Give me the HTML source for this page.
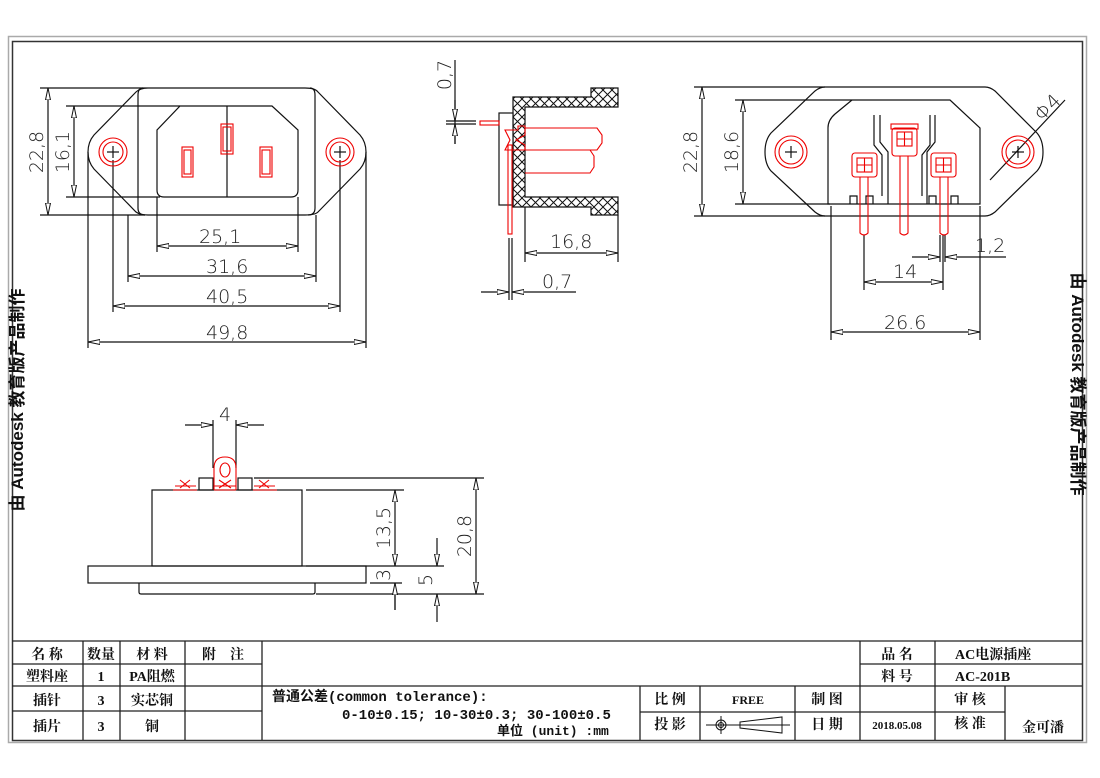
<!DOCTYPE html>
<html><head><meta charset="utf-8"><style>
html,body{margin:0;padding:0;background:#fff}
svg{display:block}
text{font-family:"Liberation Sans","Noto Sans CJK SC",sans-serif}
.d{font-family:"DejaVu Sans","Liberation Sans",sans-serif;font-size:19px;fill:#222;font-weight:300}
.t{font-family:"Liberation Serif","Noto Serif CJK SC","Noto Sans CJK SC",serif;font-size:14px;font-weight:bold;fill:#111}
.m{font-family:"Liberation Mono","Noto Sans CJK SC",monospace;font-size:14px;font-weight:bold;fill:#111}
</style></head><body>
<svg width="1100" height="778" viewBox="0 0 1100 778" xmlns="http://www.w3.org/2000/svg">
<defs>
<marker id="a" viewBox="0 0 12 6" refX="12" refY="3" markerWidth="12" markerHeight="6" orient="auto-start-reverse" markerUnits="userSpaceOnUse">
<path d="M0,0.5 L12,3 L0,5.5 Z" fill="#fff" stroke="#111" stroke-width="1"/></marker>
<pattern id="h" width="9" height="9" patternUnits="userSpaceOnUse"><path d="M0,0L9,9M9,0L0,9" stroke="#111" stroke-width="1"/></pattern>
</defs>
<rect x="0" y="0" width="1100" height="778" fill="#fff"/>
<rect x="8.5" y="36.5" width="1078" height="706" fill="none" stroke="#aaa" stroke-width="1.5"/>
<rect x="12.5" y="41.5" width="1070" height="699" fill="none" stroke="#333" stroke-width="1.5"/>

<g fill="none" stroke="#111" stroke-width="1.2">
<path d="M140,88 L305,88 Q315,88 318,92 L360,135 Q366,142 366,152 Q366,162 360,169 L318,212 Q315,215 305,215 L148,215 Q140,215 136,212 L94,169 Q88,162 88,152 Q88,142 94,135 L136,92 Q140,88 148,88 Z"/>
<path d="M143,88 Q138,88 138,95 L138,208 Q138,215 145,215"/>
<path d="M310,88 Q315,88 315,95 L315,208 Q315,215 308,215"/>
<path d="M180,106 L272,106 L298,130 L298,190 Q298,197 291,197 L164,197 Q157,197 157,190 L157,130 Z"/>
<line x1="227" y1="106" x2="227" y2="197"/>
<line x1="40" y1="88" x2="140" y2="88"/><line x1="40" y1="215" x2="145" y2="215"/>
<line x1="48" y1="88" x2="48" y2="215" marker-start="url(#a)" marker-end="url(#a)"/>
<line x1="66" y1="106" x2="180" y2="106"/><line x1="66" y1="197" x2="160" y2="197"/>
<line x1="74" y1="106" x2="74" y2="197" marker-start="url(#a)" marker-end="url(#a)"/>
<line x1="157" y1="197" x2="157" y2="252"/><line x1="298" y1="197" x2="298" y2="252"/>
<line x1="157" y1="246" x2="298" y2="246" marker-start="url(#a)" marker-end="url(#a)"/>
<line x1="128" y1="215" x2="128" y2="282"/><line x1="316" y1="215" x2="316" y2="282"/>
<line x1="128" y1="276" x2="316" y2="276" marker-start="url(#a)" marker-end="url(#a)"/>
<line x1="113" y1="160" x2="113" y2="312"/><line x1="340" y1="160" x2="340" y2="312"/>
<line x1="113" y1="306" x2="340" y2="306" marker-start="url(#a)" marker-end="url(#a)"/>
<line x1="88" y1="152" x2="88" y2="348"/><line x1="366" y1="152" x2="366" y2="348"/>
<line x1="88" y1="342" x2="366" y2="342" marker-start="url(#a)" marker-end="url(#a)"/>
<line x1="107" y1="152" x2="119" y2="152"/><line x1="113" y1="146" x2="113" y2="158"/>
<line x1="334" y1="152" x2="346" y2="152"/><line x1="340" y1="146" x2="340" y2="158"/>

<path d="M513,97 L591,97 L591,88 L618,88 L618,107 L525,107 L525,197 L618,197 L618,215 L591,215 L591,207 L513,207 Z" fill="url(#h)"/>
<rect x="499" y="113" width="14" height="92" fill="#fff"/>
<line x1="525" y1="207" x2="525" y2="262"/><line x1="618" y1="215" x2="618" y2="262"/>
<line x1="525" y1="253" x2="618" y2="253" marker-start="url(#a)" marker-end="url(#a)"/>
<line x1="509" y1="238" x2="509" y2="300"/><line x1="512" y1="238" x2="512" y2="300"/>
<line x1="481" y1="292" x2="509" y2="292" marker-end="url(#a)"/>
<line x1="536" y1="292" x2="512" y2="292" marker-end="url(#a)"/><line x1="536" y1="292" x2="576" y2="292"/>
<line x1="455" y1="60" x2="455" y2="144"/>
<line x1="446" y1="121" x2="476" y2="121"/><line x1="446" y1="124" x2="476" y2="124"/>
<line x1="455" y1="100" x2="455" y2="121" marker-end="url(#a)"/>
<line x1="455" y1="144" x2="455" y2="124" marker-end="url(#a)"/>

<path d="M825,87 L985,87 Q990,87 995,91 L1037,133 Q1043,140 1043,152 Q1043,164 1037,171 L995,212 Q990,216 985,216 L825,216 Q820,216 815,212 L771,171 Q765,164 765,152 Q765,140 771,133 L815,91 Q820,87 825,87 Z"/>
<path d="M855,100 L950,100 L980,128 L980,204 L828,204 L828,128 Q828,120 835,114 L852,100"/>
<path d="M880,115 L880,142 L888,152 L888,204 M874,115 L874,145 L882,155 L882,196 M935,115 L935,142 L927,152 L927,204 M930,115 L930,145 L922,155 L922,196"/>
<path d="M850,204 L850,196 L857,196 L857,204 M866,204 L866,196 L873,196 L873,204 M929,204 L929,196 L936,196 L936,204 M951,204 L951,196 L958,196 L958,204"/>
<line x1="694" y1="87" x2="825" y2="87"/><line x1="694" y1="216" x2="825" y2="216"/>
<line x1="702" y1="87" x2="702" y2="216" marker-start="url(#a)" marker-end="url(#a)"/>
<line x1="735" y1="100" x2="855" y2="100"/><line x1="735" y1="204" x2="830" y2="204"/>
<line x1="743" y1="100" x2="743" y2="204" marker-start="url(#a)" marker-end="url(#a)"/>
<line x1="864" y1="235" x2="864" y2="290"/><line x1="943" y1="235" x2="943" y2="290"/>
<line x1="864" y1="282" x2="943" y2="282" marker-start="url(#a)" marker-end="url(#a)"/>
<line x1="940" y1="235" x2="940" y2="262"/><line x1="945" y1="235" x2="945" y2="262"/>
<line x1="912" y1="257" x2="940" y2="257" marker-end="url(#a)"/>
<line x1="973" y1="257" x2="945" y2="257" marker-end="url(#a)"/><line x1="973" y1="257" x2="1006" y2="257"/>
<line x1="831" y1="206" x2="831" y2="340"/><line x1="980" y1="206" x2="980" y2="340"/>
<line x1="831" y1="332" x2="980" y2="332" marker-start="url(#a)" marker-end="url(#a)"/>
<line x1="990" y1="180" x2="1065" y2="100"/>
<line x1="1012" y1="152" x2="1024" y2="152"/><line x1="1018" y1="146" x2="1018" y2="158"/>
<line x1="785" y1="152" x2="797" y2="152"/><line x1="791" y1="146" x2="791" y2="158"/>

<rect x="152" y="490" width="150" height="76"/>
<rect x="88" y="566" width="278" height="17"/>
<path d="M139,583 L139,592 Q139,594 141,594 L313,594 Q315,594 315,592 L315,583"/>
<rect x="199" y="478" width="14" height="12"/><rect x="238" y="478" width="14" height="12"/>
<line x1="213" y1="420" x2="213" y2="468"/><line x1="236" y1="420" x2="236" y2="468"/>
<line x1="185" y1="425" x2="213" y2="425" marker-end="url(#a)"/>
<line x1="264" y1="425" x2="236" y2="425" marker-end="url(#a)"/>
<line x1="254" y1="478" x2="484" y2="478"/>
<line x1="306" y1="490" x2="404" y2="490"/>
<line x1="306" y1="566" x2="444" y2="566"/>
<line x1="316" y1="594" x2="484" y2="594"/>
<line x1="476" y1="478" x2="476" y2="594" marker-start="url(#a)" marker-end="url(#a)"/>
<line x1="395" y1="490" x2="395" y2="566" marker-start="url(#a)" marker-end="url(#a)"/>
<line x1="395" y1="583" x2="395" y2="610"/>
<line x1="395" y1="610" x2="395" y2="583" marker-end="url(#a)"/>
<line x1="370" y1="583" x2="402" y2="583"/>
<line x1="437" y1="538" x2="437" y2="566" marker-end="url(#a)"/>
<line x1="437" y1="622" x2="437" y2="594" marker-end="url(#a)"/>
</g>

<g fill="none" stroke="#e00" stroke-width="1.1">
<circle cx="113" cy="152" r="14"/><circle cx="113" cy="152" r="10"/>
<circle cx="340" cy="152" r="14"/><circle cx="340" cy="152" r="10"/>
<rect x="182" y="147" width="11" height="30"/><rect x="184" y="150" width="7" height="24"/>
<rect x="221" y="124" width="12" height="30"/><rect x="223" y="127" width="8" height="24"/>
<rect x="260" y="147" width="12" height="30"/><rect x="262" y="150" width="8" height="24"/>
<path d="M525,128 L597,128 L602,135 L602,143 L597,150 L525,150"/>
<path d="M525,150 L590,150 L594,156 L594,167 L590,173 L525,173"/>
<path d="M505,130 L518,130 L518,126 L525,126 L525,135 L516,140 L525,145 L525,150 L505,150 L510,140 Z"/>
<rect x="508" y="145" width="4" height="89"/>
<rect x="480" y="121" width="19" height="4"/>
<circle cx="791" cy="152" r="16"/><circle cx="791" cy="152" r="12"/>
<circle cx="1018" cy="152" r="16"/><circle cx="1018" cy="152" r="12"/>
<rect x="852" y="153" width="25" height="24" rx="3"/><rect x="857" y="158" width="15" height="14"/>
<path d="M857,165H872M864.5,158V172"/>
<path d="M860,177 L860,233 Q864,237 868,233 L868,177"/>
<rect x="891" y="124" width="27" height="5"/>
<rect x="892" y="128" width="25" height="28" rx="3"/><rect x="897" y="132" width="15" height="14"/>
<path d="M897,139H912M904.5,132V146"/>
<path d="M900,156 L900,233 Q904,237 908,233 L908,156"/>
<rect x="931" y="153" width="25" height="24" rx="3"/><rect x="936" y="158" width="15" height="14"/>
<path d="M936,165H951M943.5,158V172"/>
<path d="M940,177 L940,233 Q944,237 948,233 L948,177"/>
<path d="M214,490 L214,468 Q214,457 225,457 Q236,457 236,468 L236,490"/>
<ellipse cx="225" cy="470" rx="5" ry="7"/>
<path d="M173,490 L197,490 M175,486 L196,486 M180,480 L190,488 M190,480 L180,488"/>
<path d="M214,490 L236,490 M214,486 L236,486 M219,480 L231,488 M231,480 L219,488"/>
<path d="M253,490 L277,490 M254,486 L275,486 M259,480 L269,488 M269,480 L259,488"/>
</g>

<text class="d" x="199" y="243">25,1</text>
<text class="d" x="206" y="273">31,6</text>
<text class="d" x="206" y="303">40,5</text>
<text class="d" x="206" y="339">49,8</text>
<text class="d" transform="translate(43,152) rotate(-90)" text-anchor="middle">22,8</text>
<text class="d" transform="translate(69,152) rotate(-90)" text-anchor="middle">16,1</text>
<text class="d" transform="translate(451,75) rotate(-90)" text-anchor="middle">0,7</text>
<text class="d" x="550" y="248">16,8</text>
<text class="d" x="542" y="288">0,7</text>
<text class="d" transform="translate(697,152) rotate(-90)" text-anchor="middle">22,8</text>
<text class="d" transform="translate(738,152) rotate(-90)" text-anchor="middle">18,6</text>
<text class="d" x="893" y="278">14</text>
<text class="d" x="975" y="252">1,2</text>
<text class="d" x="884" y="329">26.6</text>
<text class="d" transform="translate(1052,112) rotate(-45)" text-anchor="middle">Φ4</text>
<text class="d" x="219" y="421">4</text>
<text class="d" transform="translate(390,528) rotate(-90)" text-anchor="middle">13,5</text>
<text class="d" transform="translate(390,575) rotate(-90)" text-anchor="middle">3</text>
<text class="d" transform="translate(432,580) rotate(-90)" text-anchor="middle">5</text>
<text class="d" transform="translate(471,536) rotate(-90)" text-anchor="middle">20,8</text>

<text transform="translate(23,400) rotate(-90)" text-anchor="middle" font-size="17" font-weight="bold" fill="#111">由 Autodesk 教育版产品制作</text>
<text transform="translate(1072,384) rotate(90)" text-anchor="middle" font-size="17" font-weight="bold" fill="#111">由 Autodesk 教育版产品制作</text>

<g stroke="#222" stroke-width="1.3" fill="none">
<line x1="12" y1="641" x2="1082" y2="641"/>
<line x1="12" y1="664" x2="262" y2="664"/>
<line x1="12" y1="686" x2="1082" y2="686"/>
<line x1="12" y1="711" x2="262" y2="711"/>
<line x1="640" y1="712" x2="1005" y2="712"/>
<line x1="860" y1="664" x2="1082" y2="664"/>
<line x1="83" y1="641" x2="83" y2="740"/>
<line x1="120" y1="641" x2="120" y2="740"/>
<line x1="185" y1="641" x2="185" y2="740"/>
<line x1="262" y1="641" x2="262" y2="740"/>
<line x1="640" y1="686" x2="640" y2="740"/>
<line x1="700" y1="686" x2="700" y2="740"/>
<line x1="795" y1="686" x2="795" y2="740"/>
<line x1="860" y1="641" x2="860" y2="740"/>
<line x1="935" y1="641" x2="935" y2="740"/>
<line x1="1005" y1="686" x2="1005" y2="740"/>
</g>
<g text-anchor="middle">
<text class="t" x="47" y="659">名 称</text>
<text class="t" x="101" y="659">数量</text>
<text class="t" x="152" y="659">材 料</text>
<text class="t" x="223" y="659">附　注</text>
<text class="t" x="47" y="681">塑料座</text>
<text class="t" x="101" y="681">1</text>
<text class="t" x="152" y="681">PA阻燃</text>
<text class="t" x="47" y="705">插针</text>
<text class="t" x="101" y="705">3</text>
<text class="t" x="152" y="705">实芯铜</text>
<text class="t" x="47" y="731">插片</text>
<text class="t" x="101" y="731">3</text>
<text class="t" x="152" y="731">铜</text>
<text class="t" x="897" y="659">品 名</text>
<text class="t" x="897" y="681">料 号</text>
<text class="t" x="670" y="704">比 例</text>
<text class="t" x="670" y="729">投 影</text>
<text class="t" x="748" y="704" style="font-size:12px">FREE</text>
<text class="t" x="827" y="704">制 图</text>
<text class="t" x="827" y="729">日 期</text>
<text class="t" x="897" y="729" style="font-size:11px">2018.05.08</text>
<text class="t" x="970" y="704">审 核</text>
<text class="t" x="970" y="728">核 准</text>
<text class="t" x="1043" y="732">金可潘</text>
</g>
<text class="t" x="955" y="659">AC电源插座</text>
<text class="t" x="955" y="681">AC-201B</text>
<text class="m" x="272" y="701">普通公差(common tolerance):</text>
<text class="m" x="342" y="719">0-10±0.15; 10-30±0.3; 30-100±0.5</text>
<text class="m" x="497" y="735" style="font-size:13px">单位 (unit) :mm</text>
<g stroke="#111" stroke-width="1" fill="none">
<line x1="706" y1="725" x2="790" y2="725"/>
<line x1="721" y1="716" x2="721" y2="734"/>
<circle cx="721" cy="725" r="5"/><circle cx="721" cy="725" r="2.5"/>
<path d="M740,722 L782,717 L782,733 L740,728 Z"/>
</g>
</svg>
</body></html>
